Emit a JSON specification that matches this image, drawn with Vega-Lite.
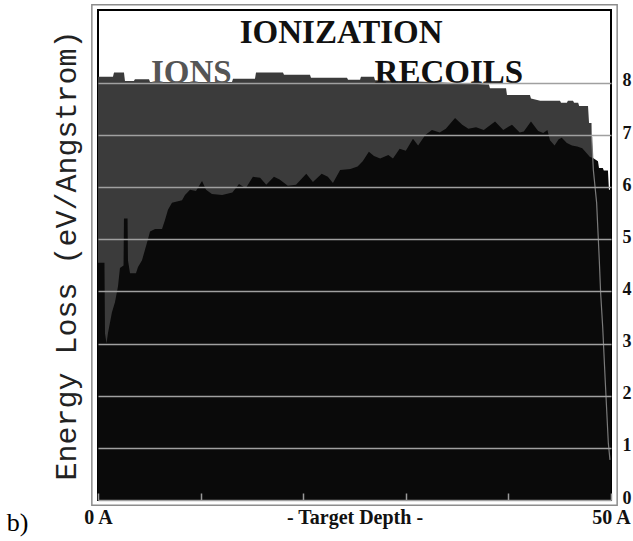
{
  "$schema": "https://vega.github.io/schema/vega-lite/v6.json",
  "width": 513,
  "height": 490,
  "autosize": {"type": "none"},
  "padding": {"left": 98, "top": 10, "right": 22, "bottom": 41},
  "background": "white",
  "config": {
    "view": {"stroke": "#000000", "strokeWidth": 2}
  },
  "data": {"values": [{}]},
  "datasets": {
    "ions": [
      {"x": 0, "y": 8.12}, {"x": 1.46, "y": 8.12}, {"x": 1.56, "y": 8.2}, {"x": 2.53, "y": 8.2},
      {"x": 2.63, "y": 8.04}, {"x": 3.5, "y": 8.04}, {"x": 3.6, "y": 8.07}, {"x": 4.97, "y": 8.07},
      {"x": 5.07, "y": 8.02}, {"x": 13.06, "y": 8.02}, {"x": 13.16, "y": 8.08}, {"x": 15.3, "y": 8.08},
      {"x": 15.4, "y": 8.2}, {"x": 18.03, "y": 8.2}, {"x": 18.13, "y": 8.16}, {"x": 20.66, "y": 8.16},
      {"x": 20.76, "y": 8.1}, {"x": 24.27, "y": 8.1}, {"x": 24.37, "y": 8.06}, {"x": 25.54, "y": 8.06},
      {"x": 25.63, "y": 8.12}, {"x": 26.9, "y": 8.12}, {"x": 27.0, "y": 8.05}, {"x": 32.4, "y": 8.02},
      {"x": 38.1, "y": 7.97}, {"x": 38.2, "y": 7.9}, {"x": 39.77, "y": 7.9}, {"x": 39.86, "y": 7.77},
      {"x": 42.1, "y": 7.77}, {"x": 42.2, "y": 7.7}, {"x": 43.1, "y": 7.66}, {"x": 45.03, "y": 7.66},
      {"x": 45.13, "y": 7.62}, {"x": 45.7, "y": 7.62}, {"x": 45.8, "y": 7.66}, {"x": 46.3, "y": 7.66},
      {"x": 46.4, "y": 7.62}, {"x": 46.8, "y": 7.62}, {"x": 46.9, "y": 7.56}, {"x": 47.76, "y": 7.56},
      {"x": 47.86, "y": 7.23}, {"x": 48.1, "y": 7.23}, {"x": 48.12, "y": 6.97}, {"x": 48.28, "y": 6.33},
      {"x": 48.6, "y": 5.7}, {"x": 48.86, "y": 4.6}, {"x": 48.99, "y": 3.97}, {"x": 49.19, "y": 3.32},
      {"x": 49.42, "y": 2.36}, {"x": 49.74, "y": 1.09}, {"x": 49.9, "y": 0.77}
    ],
    "recoils": [
      {"x": 0, "y": 4.55}, {"x": 0.63, "y": 4.55}, {"x": 0.68, "y": 3.2}, {"x": 0.83, "y": 3.0},
      {"x": 0.97, "y": 3.2}, {"x": 1.36, "y": 3.6}, {"x": 1.66, "y": 3.8}, {"x": 1.95, "y": 4.1},
      {"x": 2.14, "y": 4.45}, {"x": 2.49, "y": 4.5}, {"x": 2.53, "y": 5.4}, {"x": 2.88, "y": 5.4},
      {"x": 2.92, "y": 4.6}, {"x": 3.12, "y": 4.35}, {"x": 3.7, "y": 4.35}, {"x": 3.9, "y": 4.47},
      {"x": 4.29, "y": 4.6}, {"x": 4.58, "y": 4.8}, {"x": 4.87, "y": 5.0}, {"x": 5.07, "y": 5.15},
      {"x": 5.56, "y": 5.2}, {"x": 6.24, "y": 5.2}, {"x": 6.53, "y": 5.37}, {"x": 6.82, "y": 5.57},
      {"x": 7.21, "y": 5.7}, {"x": 8.19, "y": 5.75}, {"x": 8.48, "y": 5.85}, {"x": 8.97, "y": 5.95},
      {"x": 9.55, "y": 5.93}, {"x": 10.14, "y": 6.12}, {"x": 10.53, "y": 5.95}, {"x": 11.1, "y": 5.87},
      {"x": 12.1, "y": 5.85}, {"x": 13.1, "y": 5.9}, {"x": 13.74, "y": 6.06}, {"x": 14.4, "y": 5.98},
      {"x": 15.1, "y": 6.2}, {"x": 15.8, "y": 6.18}, {"x": 16.4, "y": 6.05}, {"x": 17.15, "y": 6.2},
      {"x": 17.7, "y": 6.15}, {"x": 18.5, "y": 6.03}, {"x": 19.3, "y": 6.05}, {"x": 20.3, "y": 6.26},
      {"x": 20.95, "y": 6.1}, {"x": 21.8, "y": 6.26}, {"x": 22.4, "y": 6.2}, {"x": 22.9, "y": 6.08},
      {"x": 23.6, "y": 6.33}, {"x": 24.6, "y": 6.35}, {"x": 25.3, "y": 6.4}, {"x": 25.8, "y": 6.5},
      {"x": 26.4, "y": 6.68}, {"x": 26.9, "y": 6.6}, {"x": 27.5, "y": 6.55}, {"x": 28.3, "y": 6.62},
      {"x": 28.75, "y": 6.55}, {"x": 29.4, "y": 6.74}, {"x": 30.0, "y": 6.7}, {"x": 30.7, "y": 6.93},
      {"x": 31.2, "y": 6.8}, {"x": 31.9, "y": 7.0}, {"x": 32.55, "y": 7.1}, {"x": 33.3, "y": 7.05},
      {"x": 33.9, "y": 7.12}, {"x": 34.8, "y": 7.33}, {"x": 35.5, "y": 7.2}, {"x": 36.1, "y": 7.12},
      {"x": 36.85, "y": 7.15}, {"x": 37.6, "y": 7.1}, {"x": 38.7, "y": 7.26}, {"x": 39.5, "y": 7.1},
      {"x": 40.35, "y": 7.2}, {"x": 41.1, "y": 7.05}, {"x": 41.5, "y": 7.07}, {"x": 42.2, "y": 7.26},
      {"x": 42.9, "y": 7.08}, {"x": 43.4, "y": 7.04}, {"x": 43.8, "y": 7.1}, {"x": 44.05, "y": 6.9},
      {"x": 44.5, "y": 6.8}, {"x": 44.9, "y": 6.92}, {"x": 45.2, "y": 6.95}, {"x": 45.7, "y": 6.85},
      {"x": 46.2, "y": 6.8}, {"x": 46.7, "y": 6.78}, {"x": 47.2, "y": 6.75}, {"x": 47.5, "y": 6.68},
      {"x": 47.95, "y": 6.58}, {"x": 48.25, "y": 6.56}, {"x": 48.73, "y": 6.5}, {"x": 48.83, "y": 6.37},
      {"x": 49.2, "y": 6.37}, {"x": 49.3, "y": 6.32}, {"x": 49.7, "y": 6.32}, {"x": 49.8, "y": 5.95},
      {"x": 50, "y": 5.95}
    ]
  },
  "layer": [
    {
      "mark": {"type": "rect", "filled": false, "color": "#8c8c8c", "strokeWidth": 1.5},
      "encoding": {
        "x": {
          "datum": -0.6, "type": "quantitative", "scale": {"domain": [0, 50], "nice": false, "zero": false},
          "axis": {
            "title": "- Target Depth -",
            "titleFont": "Liberation Serif", "titleFontWeight": "bold", "titleFontSize": 20, "titleColor": "#111111",
            "titleBaseline": "alphabetic", "titleY": 30,
            "offset": -7,
            "values": [0, 10, 20, 30, 40, 50],
            "labelExpr": "datum.value == 0 ? '0 A' : datum.value == 50 ? '50 A' : ''",
            "labelFont": "Liberation Serif", "labelFontWeight": "bold", "labelFontSize": 20, "labelColor": "#111111",
            "labelBaseline": "alphabetic", "labelPadding": 23, "labelFlush": false, "labelOverlap": false,
            "ticks": true, "tickSize": 7, "tickWidth": 1.5, "tickColor": "#9a9a9a",
            "domain": false, "grid": false, "zindex": 1
          }
        },
        "x2": {"datum": 50.6},
        "y": {"datum": -0.1, "type": "quantitative", "scale": {"domain": [0, 9.4], "nice": false, "zero": false}, "axis": null},
        "y2": {"datum": 9.5}
      }
    },
    {
      "data": {"name": "ions"},
      "mark": {"type": "area", "color": "#3b3b3b", "interpolate": "linear"},
      "encoding": {
        "x": {"field": "x", "type": "quantitative", "axis": null},
        "y": {
          "field": "y", "type": "quantitative", "title": null,
          "axis": {
            "orient": "right", "values": [0, 1, 2, 3, 4, 5, 6, 7, 8],
            "labelFont": "Liberation Serif", "labelFontWeight": "bold", "labelFontSize": 18, "labelColor": "#111111",
            "labelPadding": 11, "labelBaseline": "middle", "labelOffset": -2,
            "domain": false, "ticks": false, "grid": true, "gridColor": "#a0a0a0", "gridWidth": 1.5, "zindex": 1
          }
        }
      }
    },
    {
      "data": {"name": "recoils"},
      "mark": {"type": "area", "color": "#0a0a0a", "interpolate": "linear"},
      "encoding": {
        "x": {"field": "x", "type": "quantitative", "axis": null},
        "y": {
          "field": "y", "type": "quantitative",
          "axis": {
            "orient": "left", "labels": false, "ticks": false, "domain": false, "grid": false,
            "title": "Energy Loss (eV/Angstrom)",
            "titleFont": "Liberation Mono", "titleFontSize": 30, "titleFontWeight": "normal", "titleColor": "#222222",
            "titleAngle": -90, "titleX": -32, "titleY": 245, "titleAlign": "center", "titleBaseline": "middle"
          }
        }
      }
    },
    {
      "data": {"name": "ions"},
      "transform": [{"filter": "datum.x >= 48.12"}],
      "mark": {"type": "line", "color": "#7a7a7a", "strokeWidth": 1.2},
      "encoding": {
        "x": {"field": "x", "type": "quantitative", "axis": null},
        "y": {"field": "y", "type": "quantitative", "axis": null}
      }
    },
    {
      "mark": {"type": "text", "font": "Liberation Serif", "fontWeight": "bold", "fontSize": 33, "color": "#111111", "align": "center", "baseline": "alphabetic"},
      "encoding": {
        "x": {"datum": 23.7, "type": "quantitative", "axis": null},
        "y": {"datum": 8.77, "type": "quantitative", "axis": null},
        "text": {"value": "IONIZATION"}
      }
    },
    {
      "mark": {"type": "text", "font": "Liberation Serif", "fontWeight": "bold", "fontSize": 33, "color": "#555555", "align": "center", "baseline": "alphabetic"},
      "encoding": {
        "x": {"datum": 9.1, "type": "quantitative", "axis": null},
        "y": {"datum": 8.0, "type": "quantitative", "axis": null},
        "text": {"value": "IONS"}
      }
    },
    {
      "mark": {"type": "text", "font": "Liberation Serif", "fontWeight": "bold", "fontSize": 33, "color": "#111111", "align": "center", "baseline": "alphabetic"},
      "encoding": {
        "x": {"datum": 34.2, "type": "quantitative", "axis": null},
        "y": {"datum": 8.0, "type": "quantitative", "axis": null},
        "text": {"value": "RECOILS"}
      }
    },
    {
      "mark": {"type": "text", "font": "Liberation Serif", "fontWeight": "normal", "fontSize": 26, "color": "#000000", "align": "left", "baseline": "alphabetic"},
      "encoding": {
        "x": {"datum": -8.9, "type": "quantitative", "axis": null},
        "y": {"datum": -0.6, "type": "quantitative", "axis": null},
        "text": {"value": "b)"}
      }
    }
  ],
  "resolve": {"axis": {"x": "independent", "y": "independent"}}
}
